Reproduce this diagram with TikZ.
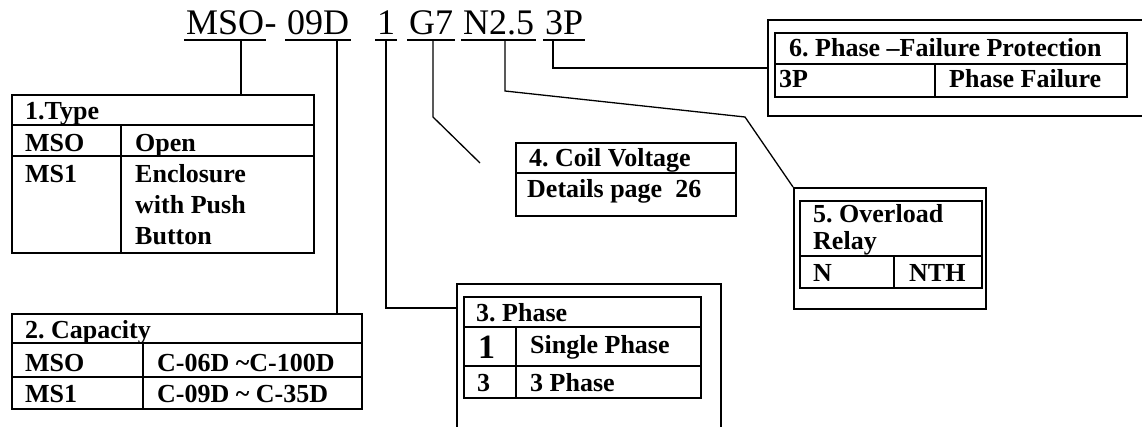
\documentclass[tikz,border=0pt]{standalone}
\usepackage{fontspec}
\setmainfont{Liberation Serif}
\frenchspacing
\begin{document}
\begin{tikzpicture}[x=1pt,y=-1pt,
  tbl/.style={line width=1.8pt},
  conn/.style={line width=1.3pt},
  ul/.style={line width=1.3pt},
  boxnode/.style={draw,line width=1.8pt,inner sep=0pt,anchor=north west},
  tok/.style={inner sep=0pt,anchor=base west,font=\fontsize{36}{40}\selectfont},
  bt/.style={inner sep=0pt,anchor=base west,font=\fontsize{26}{30}\selectfont\bfseries},
  btbig/.style={inner sep=0pt,anchor=base west,font=\fontsize{34}{38}\selectfont\bfseries}]
\useasboundingbox (0,0) rectangle (1142,427);

% ---- model code ----
\node[tok] (tMSO) at (186,35) {MSO};
\node[tok] (tdash) at (tMSO.base east) {-};
\node[tok] (t09D) at (287,35) {09D};
\node[tok] (t1) at (377,35) {1};
\node[tok] (tG7) at (409,35) {G7};
\node[tok] (tN) at (463,35) {N2.5};
\node[tok] (t3P) at (545,35) {3P};
\foreach \n in {tMSO,t09D,t1,tG7,tN,t3P}
  \draw[ul] ([xshift=-2pt,yshift=-5pt]\n.base west) -- ([xshift=2pt,yshift=-5pt]\n.base east);

% ---- 1. Type ----
\node[boxnode,minimum width=302pt,minimum height=158pt] (typebox) at (11,94) {};
\draw[tbl] (11,125) -- (313,125);
\draw[tbl] (11,156) -- (313,156);
\draw[tbl] (121,125) -- (121,252);
\node[bt] (ty0) at (25,120) {1.Type};
\node[bt] (ty1) at (25,152) {MSO};
\node[bt] (ty2) at (135,152) {Open};
\node[bt] (ty3) at (25,183) {MS1};
\node[bt] (ty4) at (135,183) {Enclosure};
\node[bt] (ty5) at (135,214) {with Push};
\node[bt] (ty6) at (135,245) {Button};

% ---- 2. Capacity ----
\node[boxnode,minimum width=350pt,minimum height=95pt] (capbox) at (11,313) {};
\draw[tbl] (11,343) -- (361,343);
\draw[tbl] (11,377) -- (361,377);
\draw[tbl] (143,343) -- (143,408);
\node[bt] (ca0) at (25,338) {2. Capacity};
\node[bt] (ca1) at (25,371) {MSO};
\node[bt] (ca2) at (157,371) {C-06D \textasciitilde C-100D};
\node[bt] (ca3) at (25,402) {MS1};
\node[bt] (ca4) at (157,402) {C-09D \textasciitilde{} C-35D};

% ---- 3. Phase ----
\draw[tbl] (457,427) -- (457,284) -- (721,284) -- (721,427);
\coordinate (phin) at (457,308);
\node[boxnode,minimum width=237pt,minimum height=101pt] (phbox) at (463,296) {};
\draw[tbl] (463,327) -- (700,327);
\draw[tbl] (463,366) -- (700,366);
\draw[tbl] (516,327) -- (516,397);
\node[bt] (ph0) at (476,322) {3. Phase};
\node[btbig] (ph1) at (478,358) {1};
\node[bt] (ph2) at (530,353) {Single Phase};
\node[bt] (ph3) at (477,391) {3};
\node[bt] (ph4) at (530,391) {3 Phase};

% ---- 4. Coil Voltage ----
\node[boxnode,minimum width=220pt,minimum height=73pt] (coilbox) at (515,142) {};
\draw[tbl] (515,173) -- (735,173);
\node[bt] (co0) at (529,167) {4. Coil Voltage};
\node[bt] (co1) at (527,198) {Details page\ \ 26};

% ---- 5. Overload Relay ----
\node[boxnode,minimum width=192pt,minimum height=121pt] (olbox) at (793,187) {};
\node[boxnode,minimum width=182pt,minimum height=87pt] (olin) at (799,200) {};
\draw[tbl] (799,256) -- (981,256);
\draw[tbl] (894,256) -- (894,287);
\node[bt] (ol0) at (813,223) {5. Overload};
\node[bt] (ol1) at (813,250) {Relay};
\node[bt] (ol2) at (813,282) {N};
\node[bt] (ol3) at (909,282) {NTH};

% ---- 6. Phase-Failure Protection ----
\draw[tbl] (1143,20) -- (768,20) -- (768,116) -- (1143,116);
\coordinate (pfin) at (768,68);
\node[boxnode,minimum width=352pt,minimum height=64pt] (pfbox) at (774,32) {};
\draw[tbl] (774,64) -- (1126,64);
\draw[tbl] (935,64) -- (935,96);
\node[bt] (pf0) at (789,57) {6. Phase \textendash Failure Protection};
\node[bt] (pf1) at (779,88) {3P};
\node[bt] (pf2) at (949,88) {Phase Failure};

% ---- connectors ----
\coordinate (aMSO) at (241,41);
\coordinate (a09D) at (337,41);
\coordinate (a1) at (386,41);
\coordinate (aG7) at (433,41);
\coordinate (aN) at (505,41);
\coordinate (a3P) at (553,41);
\coordinate (g7bend) at (433,117);
\coordinate (g7end) at (480,163);
\coordinate (nbend1) at (505,91);
\coordinate (nbend2) at (745,117);

\draw[conn] (aMSO) -- (aMSO |- typebox.north);
\draw[conn] (a09D) -- (a09D |- capbox.north);
\draw[conn] (a1) -- (a1 |- phin) -- (phin);
\draw[conn] (aG7) -- (g7bend) -- (g7end);
\draw[conn] (aN) -- (nbend1) -- (nbend2) -- (olbox.north west);
\draw[conn] (a3P) -- (a3P |- pfin) -- (pfin);
\end{tikzpicture}
\end{document}
